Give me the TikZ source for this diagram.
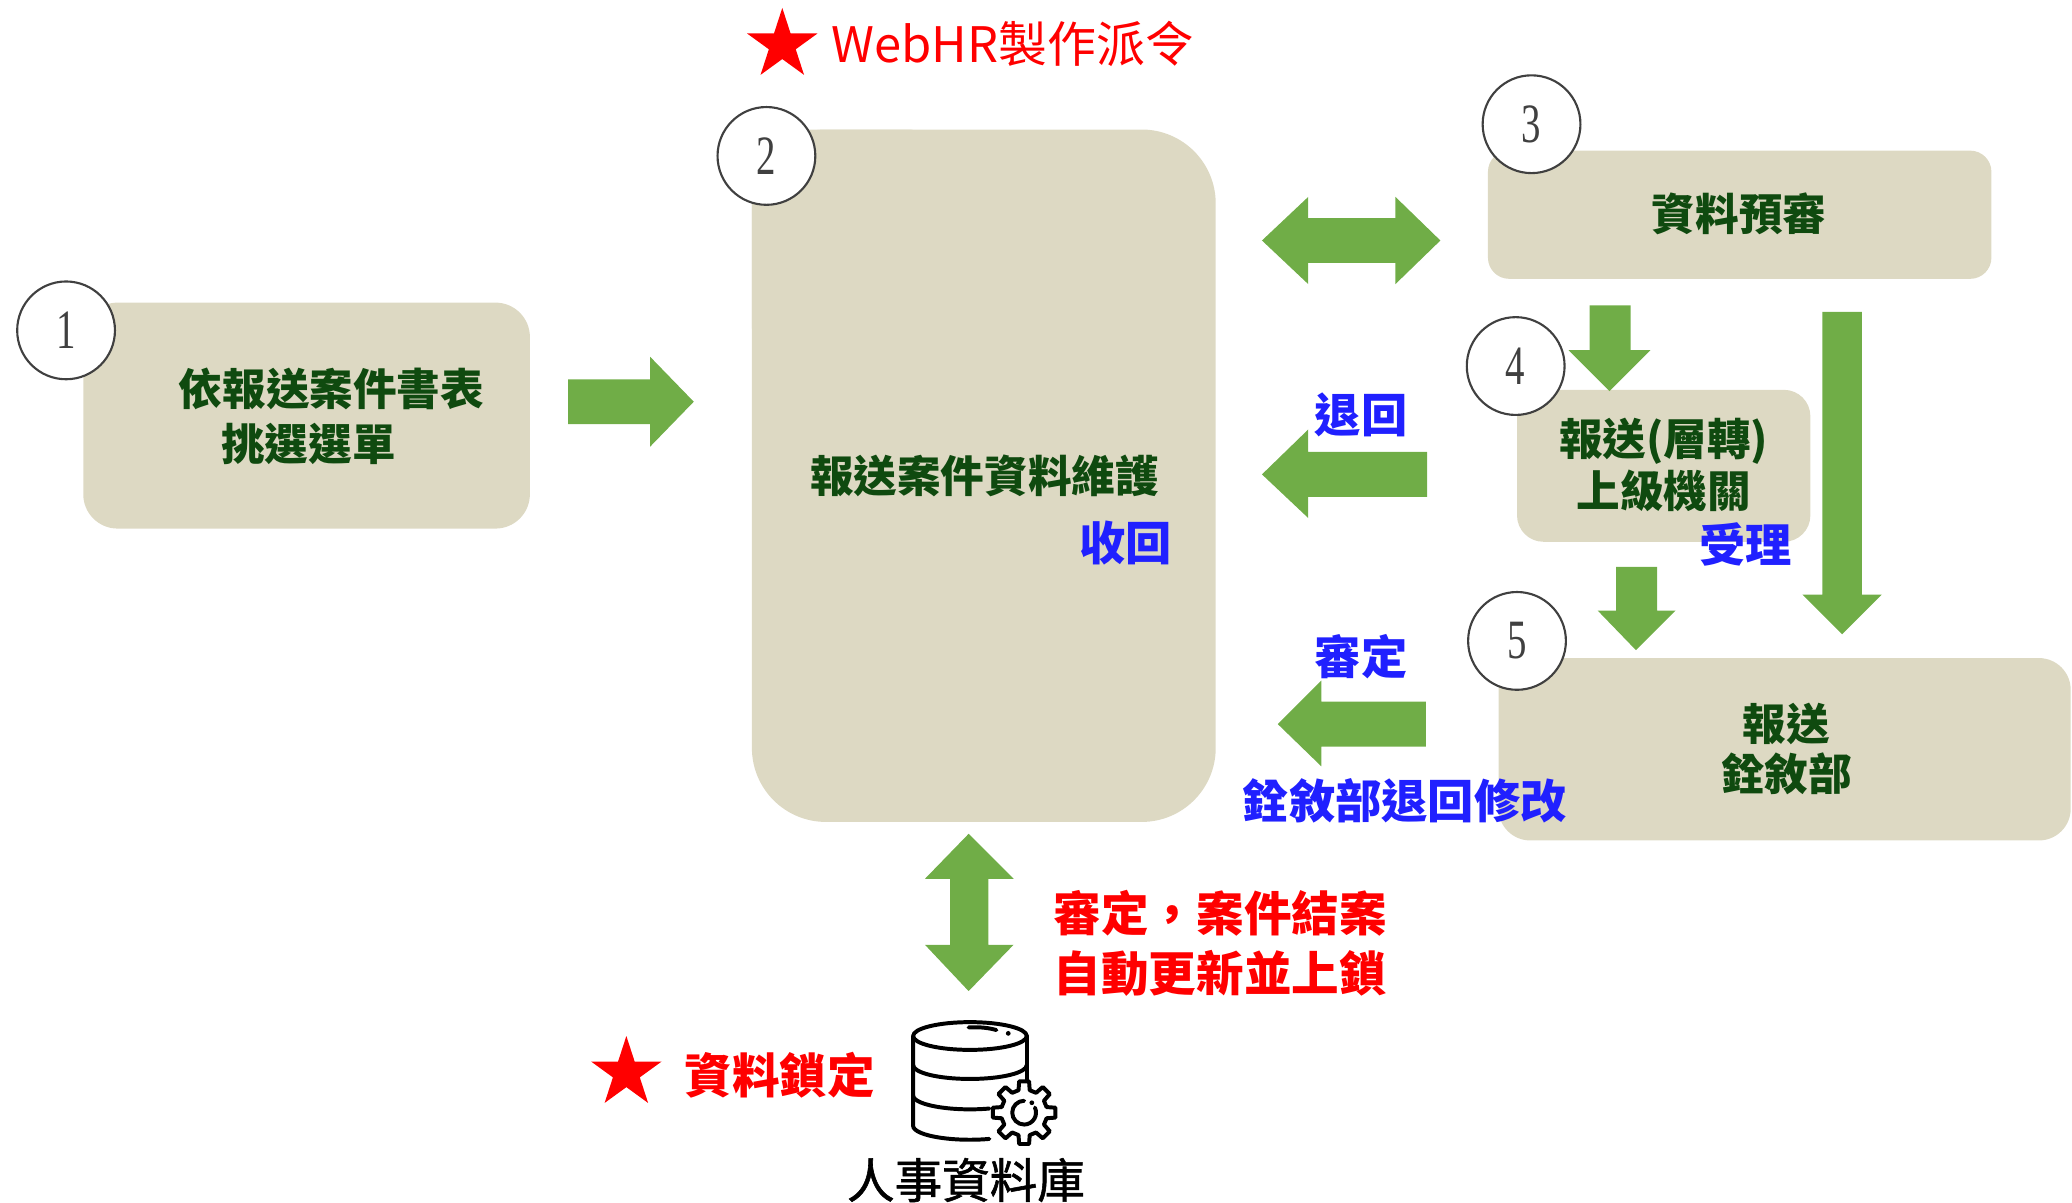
\documentclass[tikz,border=0pt]{standalone}
\usepackage{fontspec}
\newfontfamily\cjk{Noto Sans CJK TC}
\newfontfamily\cjkmed{Noto Sans CJK TC}[FakeBold=1.2]
\newfontfamily\numfont{Liberation Serif}
\usetikzlibrary{shapes.geometric}
\definecolor{boxtan}{HTML}{DDD9C3}
\definecolor{arrgreen}{HTML}{70AD47}
\definecolor{txtgreen}{HTML}{0F4A0F}
\definecolor{txtblue}{HTML}{2020FF}
\definecolor{txtred}{HTML}{FF0000}
\definecolor{numgray}{HTML}{404040}
\tikzset{
  tanbox/.style={fill=boxtan, draw=none, inner sep=0pt},
  numcirc/.style={circle, draw=numgray, line width=0.8pt, fill=white, minimum size=37pt, inner sep=0pt,
    font=\numfont\fontsize{21}{21}\selectfont, text=numgray},
  greentxt/.style={font=\cjk\bfseries\fontsize{16.5}{20.5}\selectfont, text=txtgreen, inner sep=0pt},
  bluetxt/.style={font=\cjk\bfseries\fontsize{17.5}{21}\selectfont, text=txtblue, inner sep=0pt},
  redtxt/.style={font=\cjk\bfseries\fontsize{18}{22.5}\selectfont, text=txtred, inner sep=0pt},
  blockarrow/.style={fill=arrgreen, draw=none},
  redstar/.style={star, star points=5, star point ratio=2.618, fill=txtred, draw=none, inner sep=0pt, minimum size=28pt},
  iconline/.style={draw=black, line width=1.5pt, line cap=round, line join=round},
}
\newcommand{\narrow}[1]{\scalebox{0.7}[1]{#1}}
\begin{document}
\begin{tikzpicture}[x=0.5pt,y=-0.5pt]
\useasboundingbox (0,0) rectangle (1568,910);

% ---------- title ----------
\node[redstar] (star1) at (592,34) {};
\node[redtxt, anchor=west, font=\cjk\fontsize{18.5}{22}\selectfont] (title) at (629,33) {WebHR製作派令};

% ---------- box 1 ----------
\node[tanbox, rounded corners=13pt, minimum width=169pt, minimum height=85.5pt] (box1) at (232,314.5) {};
\node[greentxt, anchor=west, align=left] (t1) at (135,315) {依報送案件書表\\\hspace{16pt}挑選選單};
\node[numcirc] (c1) at (50,250) {\narrow{1}};

% ---------- box 2 ----------
\fill[boxtan, rounded corners=28pt] (569,98) rectangle (920,622);
\fill[boxtan, rounded corners=6pt] (569,98) rectangle (700,260);
\node[inner sep=0pt, minimum width=175.5pt, minimum height=262pt] (box2) at (744.5,360) {};
\node[greentxt] (t2) at (745,360) {報送案件資料維護};
\node[bluetxt] (recall) at (852,411) {收回};
\node[numcirc] (c2) at (580,118) {\narrow{2}};

% ---------- box 3 ----------
\node[tanbox, rounded corners=8pt, minimum width=190.5pt, minimum height=48.5pt] (box3) at (1316.5,162.5) {};
\node[greentxt] (t3) at (1316,162) {資料預審};
\node[numcirc] (c3) at (1159,94) {\narrow{3}};

% ---------- box 4 ----------
\node[tanbox, rounded corners=10pt, minimum width=111pt, minimum height=57.5pt] (box4) at (1259,352.5) {};
\node[greentxt, align=center, font=\cjk\bfseries\fontsize{16.5}{19.5}\selectfont] (t4) at (1259,352) {報送(層轉)\\上級機關};
\node[numcirc] (c4) at (1147,277) {\narrow{4}};
\node[bluetxt] (accept) at (1321,412) {受理};

% ---------- box 5 ----------
\node[tanbox, rounded corners=12pt, minimum width=216.5pt, minimum height=69pt] (box5) at (1350.5,567) {};
\node[greentxt, align=center, font=\cjk\bfseries\fontsize{16.5}{19}\selectfont] (t5) at (1352,567) {報送\\銓敘部};
\node[numcirc] (c5) at (1148,485) {\narrow{5}};

% ---------- block arrows ----------
% 1 -> 2
\path[blockarrow] (430,287) -- (492,287) -- (492,270) -- (525,304) -- (492,338) -- (492,321) -- (430,321) -- cycle;
% 2 <-> 3
\path[blockarrow] (955,182) -- (990,149) -- (990,165) -- (1056,165) -- (1056,149) -- (1090,182)
  -- (1056,215) -- (1056,199) -- (990,199) -- (990,215) -- cycle;
% 3 -> 4
\path[blockarrow] (1203,231) -- (1234,231) -- (1234,265) -- (1249,265) -- (1218,296) -- (1187,265) -- (1203,265) -- cycle;
% 3 -> 5 (long)
\path[blockarrow] (1379,236) -- (1409,236) -- (1409,450) -- (1424,450) -- (1394,480) -- (1364,450) -- (1379,450) -- cycle;
% 4 -> 2 (return)
\path[blockarrow] (1080,342) -- (990,342) -- (990,325) -- (955,359) -- (990,392) -- (990,376) -- (1080,376) -- cycle;
% 4 -> 5
\path[blockarrow] (1223,429) -- (1254,429) -- (1254,462) -- (1268,462) -- (1238,492) -- (1209,462) -- (1223,462) -- cycle;
% 5 -> 2
\path[blockarrow] (1079,531) -- (1000,531) -- (1000,515) -- (967,548) -- (1000,580) -- (1000,565) -- (1079,565) -- cycle;
% 2 <-> db
\path[blockarrow] (733,631) -- (767,665) -- (748,665) -- (748,715) -- (767,715) -- (733,750)
  -- (700,715) -- (719,715) -- (719,665) -- (700,665) -- cycle;

% ---------- arrow labels ----------
\node[bluetxt] (lret) at (1030,314) {退回};
\node[bluetxt] (lcert) at (1030,497) {審定};
\node[bluetxt] (lmod) at (1063,606) {銓敘部退回修改};
\node[redtxt, align=left, anchor=west] (lclose) at (797,714) {審定，案件結案\\自動更新並上鎖};

% ---------- database ----------
\node[redstar] (star2) at (474,812) {};
\node[redtxt] (lock) at (590,814) {資料鎖定};
\node[inner sep=0pt, minimum width=45pt, minimum height=48pt] (db) at (744,818) {};
\draw[iconline] (734,784) ellipse [x radius=43, y radius=10.5];
\draw[iconline] (733,777.5) .. controls (742,777) and (749,778) .. (754,779.5);
\fill (763,782) circle [radius=1.8];
\draw[iconline] (691,784) -- (691,852) arc [start angle=180, end angle=70, x radius=43, y radius=10.5];
\draw[iconline] (777,784) -- (777,822);
\draw[iconline] (691,806) arc [start angle=180, end angle=0, x radius=43, y radius=10.5];
\draw[iconline] (691,829) arc [start angle=180, end angle=70, x radius=43, y radius=10.5];
\begin{scope}[shift={(775,842)}]
  \draw[iconline, fill=white] (-14:17.5)
    \foreach \a in {0,45,...,315}{ -- (\a-14:17.5) -- (\a-9:24) -- (\a+9:24) -- (\a+14:17.5) } -- cycle;
  \draw[iconline] (-90:9) arc [start angle=-90, end angle=-385, radius=9];
  \fill (-52:9.5) circle [radius=1.8];
\end{scope}
\node[font=\cjkmed\fontsize{18}{22}\selectfont, inner sep=0pt] (dbname) at (731,893) {人事資料庫};
\end{tikzpicture}
\end{document}
